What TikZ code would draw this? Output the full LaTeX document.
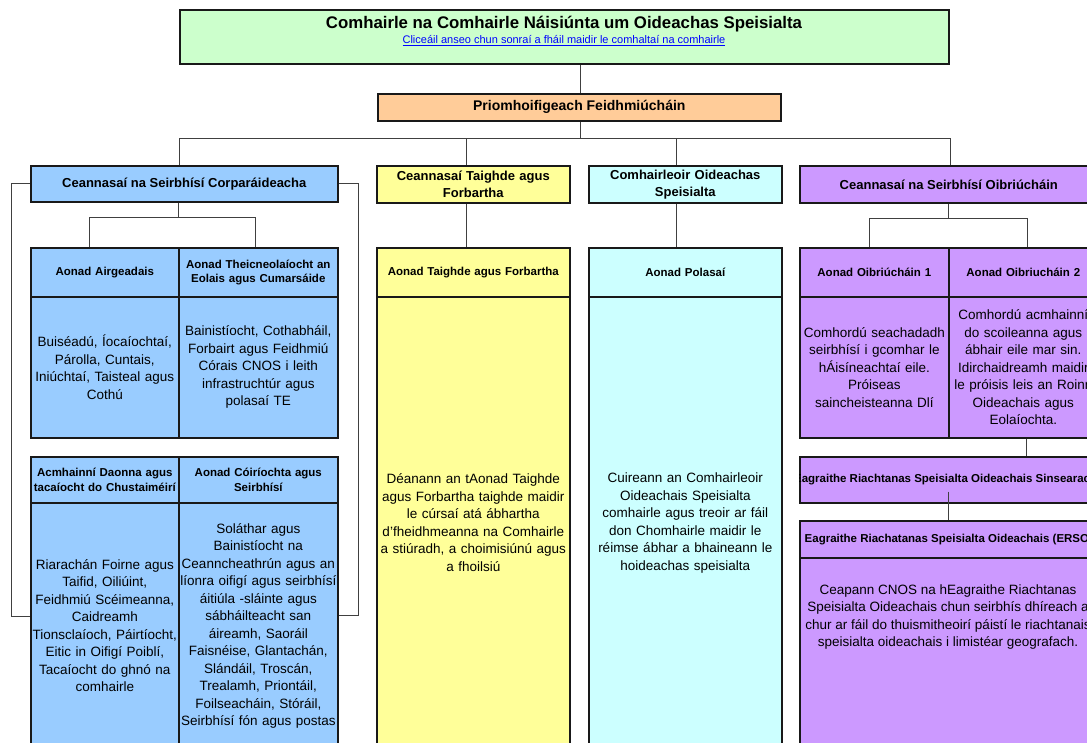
\documentclass[tikz,border=0pt]{standalone}
\usepackage{fontspec}
\setmainfont{Liberation Sans}
\usepackage{xcolor}
\usepackage{tikz}
\usetikzlibrary{calc}

\definecolor{cnclgreen}{HTML}{CCFFCC}
\definecolor{ceoorange}{HTML}{FFCC99}
\definecolor{corpblue}{HTML}{99CCFF}
\definecolor{rdyellow}{HTML}{FFFF99}
\definecolor{polcyan}{HTML}{CCFFFF}
\definecolor{opspurple}{HTML}{CC99FF}

\tikzset{
	cell/.style={draw=black!90, rectangle, line width=1.6pt, inner sep=0pt, anchor=north west, align=center},
	headtxt/.style={font=\bfseries\fontsize{13}{17}\selectfont},
	unithd/.style={font=\bfseries\fontsize{11.5}{14.5}\selectfont},
	unitbd/.style={font=\fontsize{13.5}{17.5}\selectfont},
	wire/.style={draw=black!75, line width=0.8pt}
}

\begin{document}
\begin{tikzpicture}[x=1pt, y=-1pt]
\useasboundingbox (0,0) rectangle (1087,742);
\clip (0,0) rectangle (1087,742);
\fill[white] (0,0) rectangle (1087,742);

% An Chomhairle
\node[cell, fill=cnclgreen, minimum width=769pt, minimum height=54pt] (cncl) at (179,9) {};
\node[font=\bfseries\fontsize{16.8}{20}\selectfont] (cncltitle) at (564,24) {Comhairle na Comhairle Náisiúnta um Oideachas Speisialta};
\node[font=\fontsize{11}{13}\selectfont, text=blue] (cncllink) at (564,41) {\underline{Cliceáil anseo chun sonraí a fháil maidir le comhaltaí na comhairle}};

\node[cell, fill=ceoorange, minimum width=403pt, minimum height=27pt, font=\bfseries\fontsize{14}{17}\selectfont] (ceo) at (377,93) {Priomhoifigeach Feidhmiúcháin};
\draw[wire] ([xshift=1.5pt]ceo.north) -- ([xshift=1.5pt]ceo.north |- cncl.south);
\coordinate (bus) at ($(ceo.south)+(1.5,17)$);
\draw[wire] (ceo.south -| bus) -- (bus);

% Ceannasaithe
\node[cell, fill=corpblue, minimum width=307pt, minimum height=36pt, headtxt] (corp) at (30,165) {Ceannasaí na Seirbhísí Corparáideacha};
\node[cell, fill=rdyellow, text width=193pt, minimum height=37pt, headtxt] (rdhead) at (376,165) {Ceannasaí Taighde agus\\Forbartha};
\node[cell, fill=polcyan, text width=193pt, minimum height=37pt, headtxt] (sphead) at (588,165) {Comhairleoir Oideachas\\Speisialta};
\node[cell, fill=opspurple, minimum width=298pt, minimum height=37pt, headtxt] (opshead) at (799,165) {Ceannasaí na Seirbhísí Oibriúcháin};

\foreach \hd/\dx in {corp/-4.5, rdhead/-6.5, sphead/-8.5, opshead/2}{
	\draw[wire] ([xshift=\dx pt]\hd.north) |- (bus);
}

% Seirbhísí Corparáideacha
\node[cell, fill=corpblue, text width=148pt, minimum height=49pt, unithd] (finhd) at (30,247) {Aonad Airgeadais};
\node[cell, fill=corpblue, text width=159pt, minimum height=49pt, unithd] (icthd) at (178,247) {Aonad Theicneolaíocht an\\Eolais agus Cumarsáide};
\node[cell, fill=corpblue, text width=148pt, minimum height=141pt, unitbd] (finbd) at (30,296) {Buiséadú, Íocaíochtaí,\\Párolla, Cuntais,\\Iniúchtaí, Taisteal agus\\Cothú};
\node[cell, fill=corpblue, text width=159pt, minimum height=141pt, unitbd] (ictbd) at (178,296) {Bainistíocht, Cothabháil,\\Forbairt agus Feidhmiú\\Córais CNOS i leith\\infrastruchtúr agus\\polasaí TE};

\draw[wire] ([xshift=-5.5pt]corp.south) -- ++(0,15) coordinate (corpjn);
\draw[wire] ([xshift=-15pt]finhd.north) |- (corpjn) -| ([xshift=-2.5pt]icthd.north);

\node[cell, fill=corpblue, text width=148pt, minimum height=46pt, unithd] (hrhd) at (30,456) {Acmhainní Daonna agus\\tacaíocht do Chustaiméirí};
\node[cell, fill=corpblue, text width=159pt, minimum height=46pt, unithd] (acchd) at (178,456) {Aonad Cóiríochta agus\\Seirbhísí};
\node[cell, fill=corpblue, text width=148pt, minimum height=246pt, unitbd] (hrbd) at (30,502) {Riarachán Foirne agus\\Taifid, Oiliúint,\\Feidhmiú Scéimeanna,\\Caidreamh\\Tionsclaíoch, Páirtíocht,\\Eitic in Oifigí Poiblí,\\Tacaíocht do ghnó na\\comhairle};
\node[cell, fill=corpblue, text width=159pt, minimum height=246pt, unitbd] (accbd) at (178,502) {Soláthar agus\\Bainistíocht na\\Ceanncheathrún agus an\\líonra oifigí agus seirbhísí\\áitiúla -sláinte agus\\sábháilteacht san\\áireamh, Saoráil\\Faisnéise, Glantachán,\\Slándáil, Troscán,\\Trealamh, Priontáil,\\Foilseacháin, Stóráil,\\Seirbhísí fón agus postas};

\draw[wire] (corp.west) -- ++(-19,0) |- ([yshift=9pt]hrbd.west);
\draw[wire] (corp.east) -- ++(20,0) |- ([yshift=10pt]accbd.east);

% Taighde agus Polasaí
\node[cell, fill=rdyellow, text width=193pt, minimum height=49pt, unithd] (rdhd) at (376,247) {Aonad Taighde agus Forbartha};
\node[cell, fill=rdyellow, text width=193pt, minimum height=452pt, unitbd] (rdbd) at (376,296) {Déanann an tAonad Taighde\\agus Forbartha taighde maidir\\le cúrsaí atá ábhartha\\d'fheidhmeanna na Comhairle\\a stiúradh, a choimisiúnú agus\\a fhoilsiú};
\draw[wire] ([xshift=-6.5pt]rdhead.south) -- ([xshift=-6.5pt]rdhead.south |- rdhd.north);

\node[cell, fill=polcyan, text width=193pt, minimum height=49pt, unithd] (polhd) at (588,247) {Aonad Polasaí};
\node[cell, fill=polcyan, text width=193pt, minimum height=452pt, unitbd] (polbd) at (588,296) {Cuireann an Comhairleoir\\Oideachais Speisialta\\comhairle agus treoir ar fáil\\don Chomhairle maidir le\\réimse ábhar a bhaineann le\\hoideachas speisialta};
\draw[wire] ([xshift=-8.5pt]sphead.south) -- ([xshift=-8.5pt]sphead.south |- polhd.north);

% Seirbhísí Oibriúcháin
\node[cell, fill=opspurple, text width=149pt, minimum height=49pt, unithd] (op1hd) at (799,247) {Aonad Oibriúcháin 1};
\node[cell, fill=opspurple, text width=149pt, minimum height=49pt, unithd] (op2hd) at (948,247) {Aonad Oibriucháin 2};
\node[cell, fill=opspurple, text width=149pt, minimum height=141pt, unitbd] (op1bd) at (799,296) {Comhordú seachadadh\\seirbhísí i gcomhar le\\hÁisíneachtaí eile.\\Próiseas\\saincheisteanna Dlí};
\node[cell, fill=opspurple, text width=149pt, minimum height=141pt, unitbd] (op2bd) at (948,296) {Comhordú acmhainní\\do scoileanna agus\\ábhair eile mar sin.\\Idirchaidreamh maidir\\le próisis leis an Roinn\\Oideachais agus\\Eolaíochta.};

\draw[wire] (opshead.south) -- ++(0,15) coordinate (opsjn);
\draw[wire] ([xshift=-4.5pt]op1hd.north) |- (opsjn) -| ([xshift=4.5pt]op2hd.north);

\node[cell, fill=opspurple, minimum width=298pt, minimum height=46pt] (senhd) at (799,456) {};
\begin{scope}
	\clip (senhd.north west) rectangle (senhd.south east);
	\node[unithd] (sentitle) at (senhd.center) {Eagraithe Riachtanas Speisialta Oideachais Sinsearacha};
\end{scope}
\draw[wire] ([xshift=3.5pt]op2bd.south) -- ([xshift=3.5pt]op2bd.south |- senhd.north);

\node[cell, fill=opspurple, minimum width=298pt, minimum height=37pt] (ersohd) at (799,520) {};
\node[unithd] (ersotitle) at (ersohd.center) {Eagraithe Riachatanas Speisialta Oideachais (ERSO)};
\node[cell, fill=opspurple, minimum width=298pt, minimum height=191pt] (ersobd) at (799,557) {};
\node[unitbd, align=center] (ersotxt) at (948,617) {Ceapann CNOS na hEagraithe Riachtanas\\Speisialta Oideachais chun seirbhís dhíreach a\\chur ar fáil do thuismitheoirí páistí le riachtanais\\speisialta oideachais i limistéar geografach.};
\draw[wire] ([yshift=12pt]senhd.south) -- (senhd.south |- ersohd.north);

\end{tikzpicture}
\end{document}
